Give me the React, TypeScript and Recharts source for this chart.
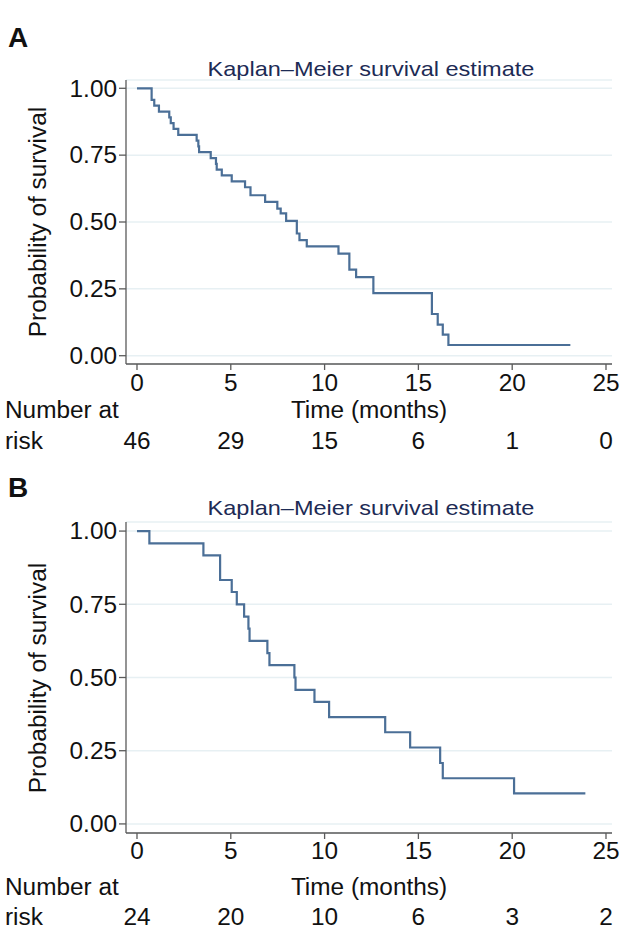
import React from 'react';
import { LineChart, Line, XAxis, YAxis, CartesianGrid } from 'recharts';

// ---- data ----
const timeTicks = [0, 5, 10, 15, 20, 25];
const survTicks = [0, 0.25, 0.5, 0.75, 1];

const timesA = [0, 0.78, 0.92, 1.17, 1.72, 1.8, 1.95, 2.2, 3.18, 3.27, 3.31, 3.93, 4.21, 4.25, 4.52, 5.05, 5.76, 6.05, 6.83, 7.48, 7.66, 7.95, 8.52, 8.66, 9.05, 10.74, 11.32, 11.68, 12.6, 15.72, 16.03, 16.3, 16.6, 23.1];
const survA = [1, 0.957, 0.935, 0.913, 0.891, 0.87, 0.848, 0.826, 0.804, 0.783, 0.761, 0.739, 0.717, 0.696, 0.674, 0.652, 0.63, 0.6, 0.575, 0.55, 0.532, 0.504, 0.457, 0.432, 0.409, 0.382, 0.322, 0.294, 0.234, 0.156, 0.116, 0.079, 0.04, 0.04];
const riskA = [46, 29, 15, 6, 1, 0];

const timesB = [0, 0.66, 3.54, 4.43, 5.05, 5.32, 5.71, 5.94, 6.0, 6.95, 7.06, 8.39, 8.45, 9.46, 10.24, 13.23, 14.56, 16.16, 16.3, 20.1, 23.9];
const survB = [1, 0.958, 0.917, 0.833, 0.792, 0.75, 0.708, 0.667, 0.625, 0.583, 0.542, 0.5, 0.458, 0.417, 0.365, 0.313, 0.261, 0.208, 0.156, 0.104, 0.104];
const riskB = [24, 20, 10, 6, 3, 2];

const FONT = '"Liberation Sans", Arial, Helvetica, sans-serif';
const SX = 1.06;
const TICK_FS = 23;
const AXIS_COLOR = '#5a5a5a';
const LINE_COLOR = '#4b6f97';
const GRID_COLOR = '#e7f0f3';
const TITLE_COLOR = '#1d2b55';

function SText({ x, y, size, anchor, children, fill = '#111' }: any) {
  const base = y + 0.36 * size;
  return (
    <text
      transform={`translate(${x},${base}) scale(${SX},1)`}
      textAnchor={anchor}
      fontSize={size}
      fontFamily={FONT}
      fill={fill}
    >
      {children}
    </text>
  );
}

function makeXTick(risk: number[], labelOff: number, riskOff: number) {
  return (props: any) => {
    const { x, y, payload } = props;
    const axisY = y - 8;
    const i = timeTicks.indexOf(payload.value);
    return (
      <g>
        <SText x={x} y={axisY + labelOff} size={TICK_FS} anchor="middle">{String(payload.value)}</SText>
        <SText x={x} y={axisY + riskOff} size={TICK_FS} anchor="middle">{String(risk[i])}</SText>
      </g>
    );
  };
}

function YTick(props: any) {
  const { x, y, payload } = props;
  return <SText x={x} y={y} size={TICK_FS} anchor="end">{Number(payload.value).toFixed(2)}</SText>;
}

function HText({ cx, cy, size, children, color = '#111', bold = false, rotate = false, sx = SX }: any) {
  return (
    <div
      style={{
        position: 'absolute',
        left: cx,
        top: cy,
        transform: `translate(-50%,-50%)${rotate ? ' rotate(-90deg)' : ''} scaleX(${sx})`,
        fontFamily: FONT,
        fontSize: size,
        fontWeight: bold ? 700 : 400,
        color,
        whiteSpace: 'nowrap',
        lineHeight: 1,
      }}
    >
      {children}
    </div>
  );
}

function Panel({ top, height, marginTop, xAxisHeight, times, surv, risk, letter, letterY, titleY, labelOff, timeOff, riskOff }: any) {
  const data = times.map((t: number, i: number) => ({ t, s: surv[i] }));
  const axisY = height - xAxisHeight;
  const plotTop = marginTop;
  const leftText = {
    position: 'absolute' as const, left: 5, transform: `translate(0,-50%) scaleX(${SX})`, transformOrigin: 'left center',
    fontFamily: FONT, fontSize: TICK_FS, lineHeight: 1, whiteSpace: 'nowrap' as const, color: '#111',
  };
  return (
    <div style={{ position: 'absolute', left: 0, top, width: 630, height }}>
      <LineChart width={630} height={height} data={data} margin={{ top: marginTop, right: 18, left: 0, bottom: 0 }}>
        <CartesianGrid horizontal vertical={false} stroke={GRID_COLOR} strokeWidth={1.5} />
        <XAxis
          dataKey="t"
          type="number"
          domain={[-0.586, 25.32]}
          ticks={timeTicks}
          interval={0}
          allowDataOverflow
          height={xAxisHeight}
          tickSize={6}
          tickMargin={2}
          stroke={AXIS_COLOR}
          strokeWidth={1.3}
          tick={makeXTick(risk, labelOff, riskOff)}
        />
        <YAxis
          type="number"
          domain={[-0.031, 1.031]}
          ticks={survTicks}
          interval={0}
          allowDataOverflow
          width={126}
          tickSize={7}
          tickMargin={2}
          stroke={AXIS_COLOR}
          strokeWidth={1.3}
          tick={YTick}
        />
        <Line type="stepAfter" dataKey="s" stroke={LINE_COLOR} strokeWidth={2.2} dot={false} isAnimationActive={false} />
      </LineChart>
      <HText cx={18} cy={letterY} size={28} bold sx={1}>{letter}</HText>
      <HText cx={371} cy={titleY} size={21} sx={1.12} color={TITLE_COLOR}>Kaplan–Meier survival estimate</HText>
      <HText cx={38} cy={(plotTop + axisY) / 2} size={TICK_FS} rotate>Probability of survival</HText>
      <HText cx={369} cy={axisY + timeOff} size={TICK_FS}>Time (months)</HText>
      <div style={{ ...leftText, top: axisY + timeOff }}>Number at</div>
      <div style={{ ...leftText, top: axisY + riskOff }}>risk</div>
    </div>
  );
}

export default function App() {
  return (
    <div style={{ position: 'absolute', left: 0, top: 0, width: 630, height: 945, background: '#fff', overflow: 'hidden' }}>
      <Panel
        top={0} height={470} marginTop={80} xAxisHeight={106}
        times={timesA} surv={survA} risk={riskA}
        letter="A" letterY={38} titleY={68}
        labelOff={19} timeOff={46} riskOff={77}
      />
      <Panel
        top={470} height={475} marginTop={52} xAxisHeight={112}
        times={timesB} surv={survB} risk={riskB}
        letter="B" letterY={18} titleY={37}
        labelOff={18} timeOff={54} riskOff={84}
      />
    </div>
  );
}
